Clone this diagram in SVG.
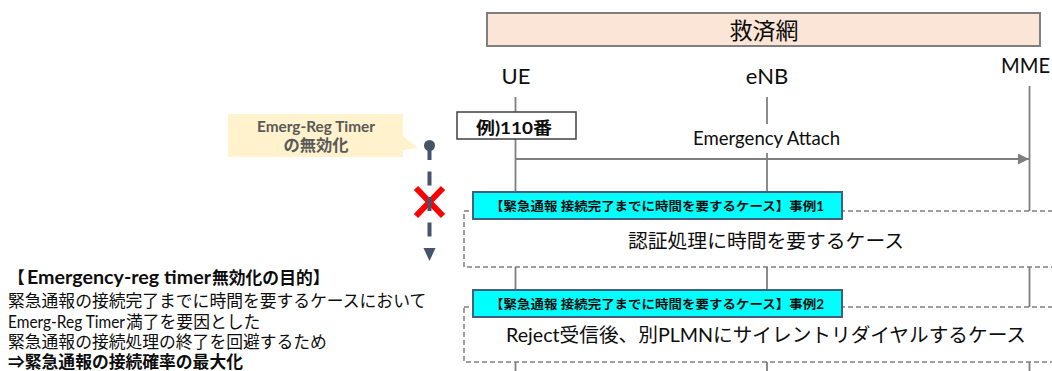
<svg xmlns="http://www.w3.org/2000/svg" width="1052" height="371" viewBox="0 0 1052 371">
<style>
text{font-family:Lato,"Noto Sans CJK JP",sans-serif;fill:#0d0d0d}
.life{stroke:#7f7f7f;stroke-width:1.8;fill:none}
.dash{fill:#fff;stroke:#7f7f7f;stroke-width:1.5;stroke-dasharray:5 3}
.cyan{fill:#00ffff;stroke:#41607f;stroke-width:2}
.ct{font-size:12.5px;font-weight:bold}
.lbl{font-size:22px;text-anchor:middle}
.body{font-size:16.8px}
.b{font-weight:bold}
</style>
<defs>
<marker id="ah" markerWidth="11" markerHeight="11" viewBox="0 0 11 11" refX="11" refY="5.5" orient="auto" markerUnits="userSpaceOnUse">
<path d="M0,0 L11,5.5 L0,11 Z" fill="#7f7f7f"/>
</marker>
</defs>
<rect width="1052" height="371" fill="#fff"/>

<g id="connectors">
<line class="life" x1="515.5" y1="97" x2="515.5" y2="371"/>
<line class="life" x1="767" y1="97" x2="767" y2="124"/>
<line class="life" x1="767" y1="153" x2="767" y2="371"/>
<line class="life" x1="1029.5" y1="86" x2="1029.5" y2="371"/>
<line class="life" x1="515.5" y1="159" x2="1029" y2="159" marker-end="url(#ah)"/>
<text x="693" y="145" font-size="19" textLength="147" lengthAdjust="spacingAndGlyphs">Emergency Attach</text>
</g>

<g id="network">
<rect x="487" y="13" width="553" height="33" fill="#fbe5d6" stroke="#7f7f7f" stroke-width="2"/>
<text x="764" y="39" font-size="23" text-anchor="middle">救済網</text>
</g>

<g id="ue"><text class="lbl" x="516" y="84">UE</text></g>
<g id="enb"><text class="lbl" x="767" y="84">eNB</text></g>
<g id="mme"><text x="1001" y="73" font-size="21" textLength="49" lengthAdjust="spacingAndGlyphs">MME</text></g>

<g id="example">
<rect x="457" y="112" width="119" height="27" fill="#fff" stroke="#404040" stroke-width="1.5"/>
<text x="476" y="134" font-size="17.5" font-weight="bold" textLength="76" lengthAdjust="spacingAndGlyphs">例)110番</text>
</g>

<g id="case1">
<rect class="dash" x="464" y="211" width="600" height="56"/>
<rect class="cyan" x="473" y="192" width="369" height="27"/>
<text class="ct" x="490" y="210.5" textLength="334" lengthAdjust="spacingAndGlyphs">【緊急通報 接続完了までに時間を要するケース】事例1</text>
<text x="766" y="248" font-size="19.8" text-anchor="middle">認証処理に時間を要するケース</text>
</g>

<g id="case2">
<rect class="dash" x="464" y="307" width="600" height="55"/>
<rect class="cyan" x="473" y="290" width="369" height="27"/>
<text class="ct" x="490" y="308.5" textLength="334" lengthAdjust="spacingAndGlyphs">【緊急通報 接続完了までに時間を要するケース】事例2</text>
<text x="506" y="342" font-size="19.8" textLength="520" lengthAdjust="spacingAndGlyphs">Reject受信後、別PLMNにサイレントリダイヤルするケース</text>
</g>

<g id="callout">
<path d="M228,114 H403 V136 L418,148 L403,150 V157 H228 Z" fill="#fff2cc"/>
<text x="316" y="131.5" font-size="16" font-weight="bold" text-anchor="middle" textLength="118" lengthAdjust="spacingAndGlyphs" style="fill:#595959">Emerg-Reg Timer</text>
<text x="316" y="151" font-size="16.3" font-weight="bold" text-anchor="middle" style="fill:#595959">の無効化</text>
</g>

<g id="timer">
<path d="M416,188 L443,216 M443,188 L416,216" stroke="#ff0000" stroke-width="6" fill="none"/>
<line x1="429.5" y1="146" x2="429.5" y2="248" stroke="#44546a" stroke-width="4" stroke-dasharray="14 11.5"/>
<circle cx="429.5" cy="145.5" r="5.5" fill="#44546a"/>
<path d="M423.5,248 L435.5,248 L429.5,261 Z" fill="#44546a"/>
</g>

<g id="purpose">
<text class="body b" x="8" y="284" font-size="17">【</text>
<text class="b" x="27" y="284" font-size="18" textLength="184" lengthAdjust="spacingAndGlyphs">Emergency-reg timer</text>
<text class="body b" x="212" y="284">無効化の目的】</text>
<text class="body" x="8" y="307">緊急通報の接続完了までに時間を要するケースにおいて</text>
<text x="8" y="328" font-size="16.5" textLength="117" lengthAdjust="spacingAndGlyphs">Emerg-Reg Timer</text>
<text class="body" x="126" y="328">満了を要因とした</text>
<text class="body" x="8" y="348">緊急通報の接続処理の終了を回避するため</text>
<text class="body b" x="8" y="368">⇒緊急通報の接続確率の最大化</text>
</g>
</svg>
